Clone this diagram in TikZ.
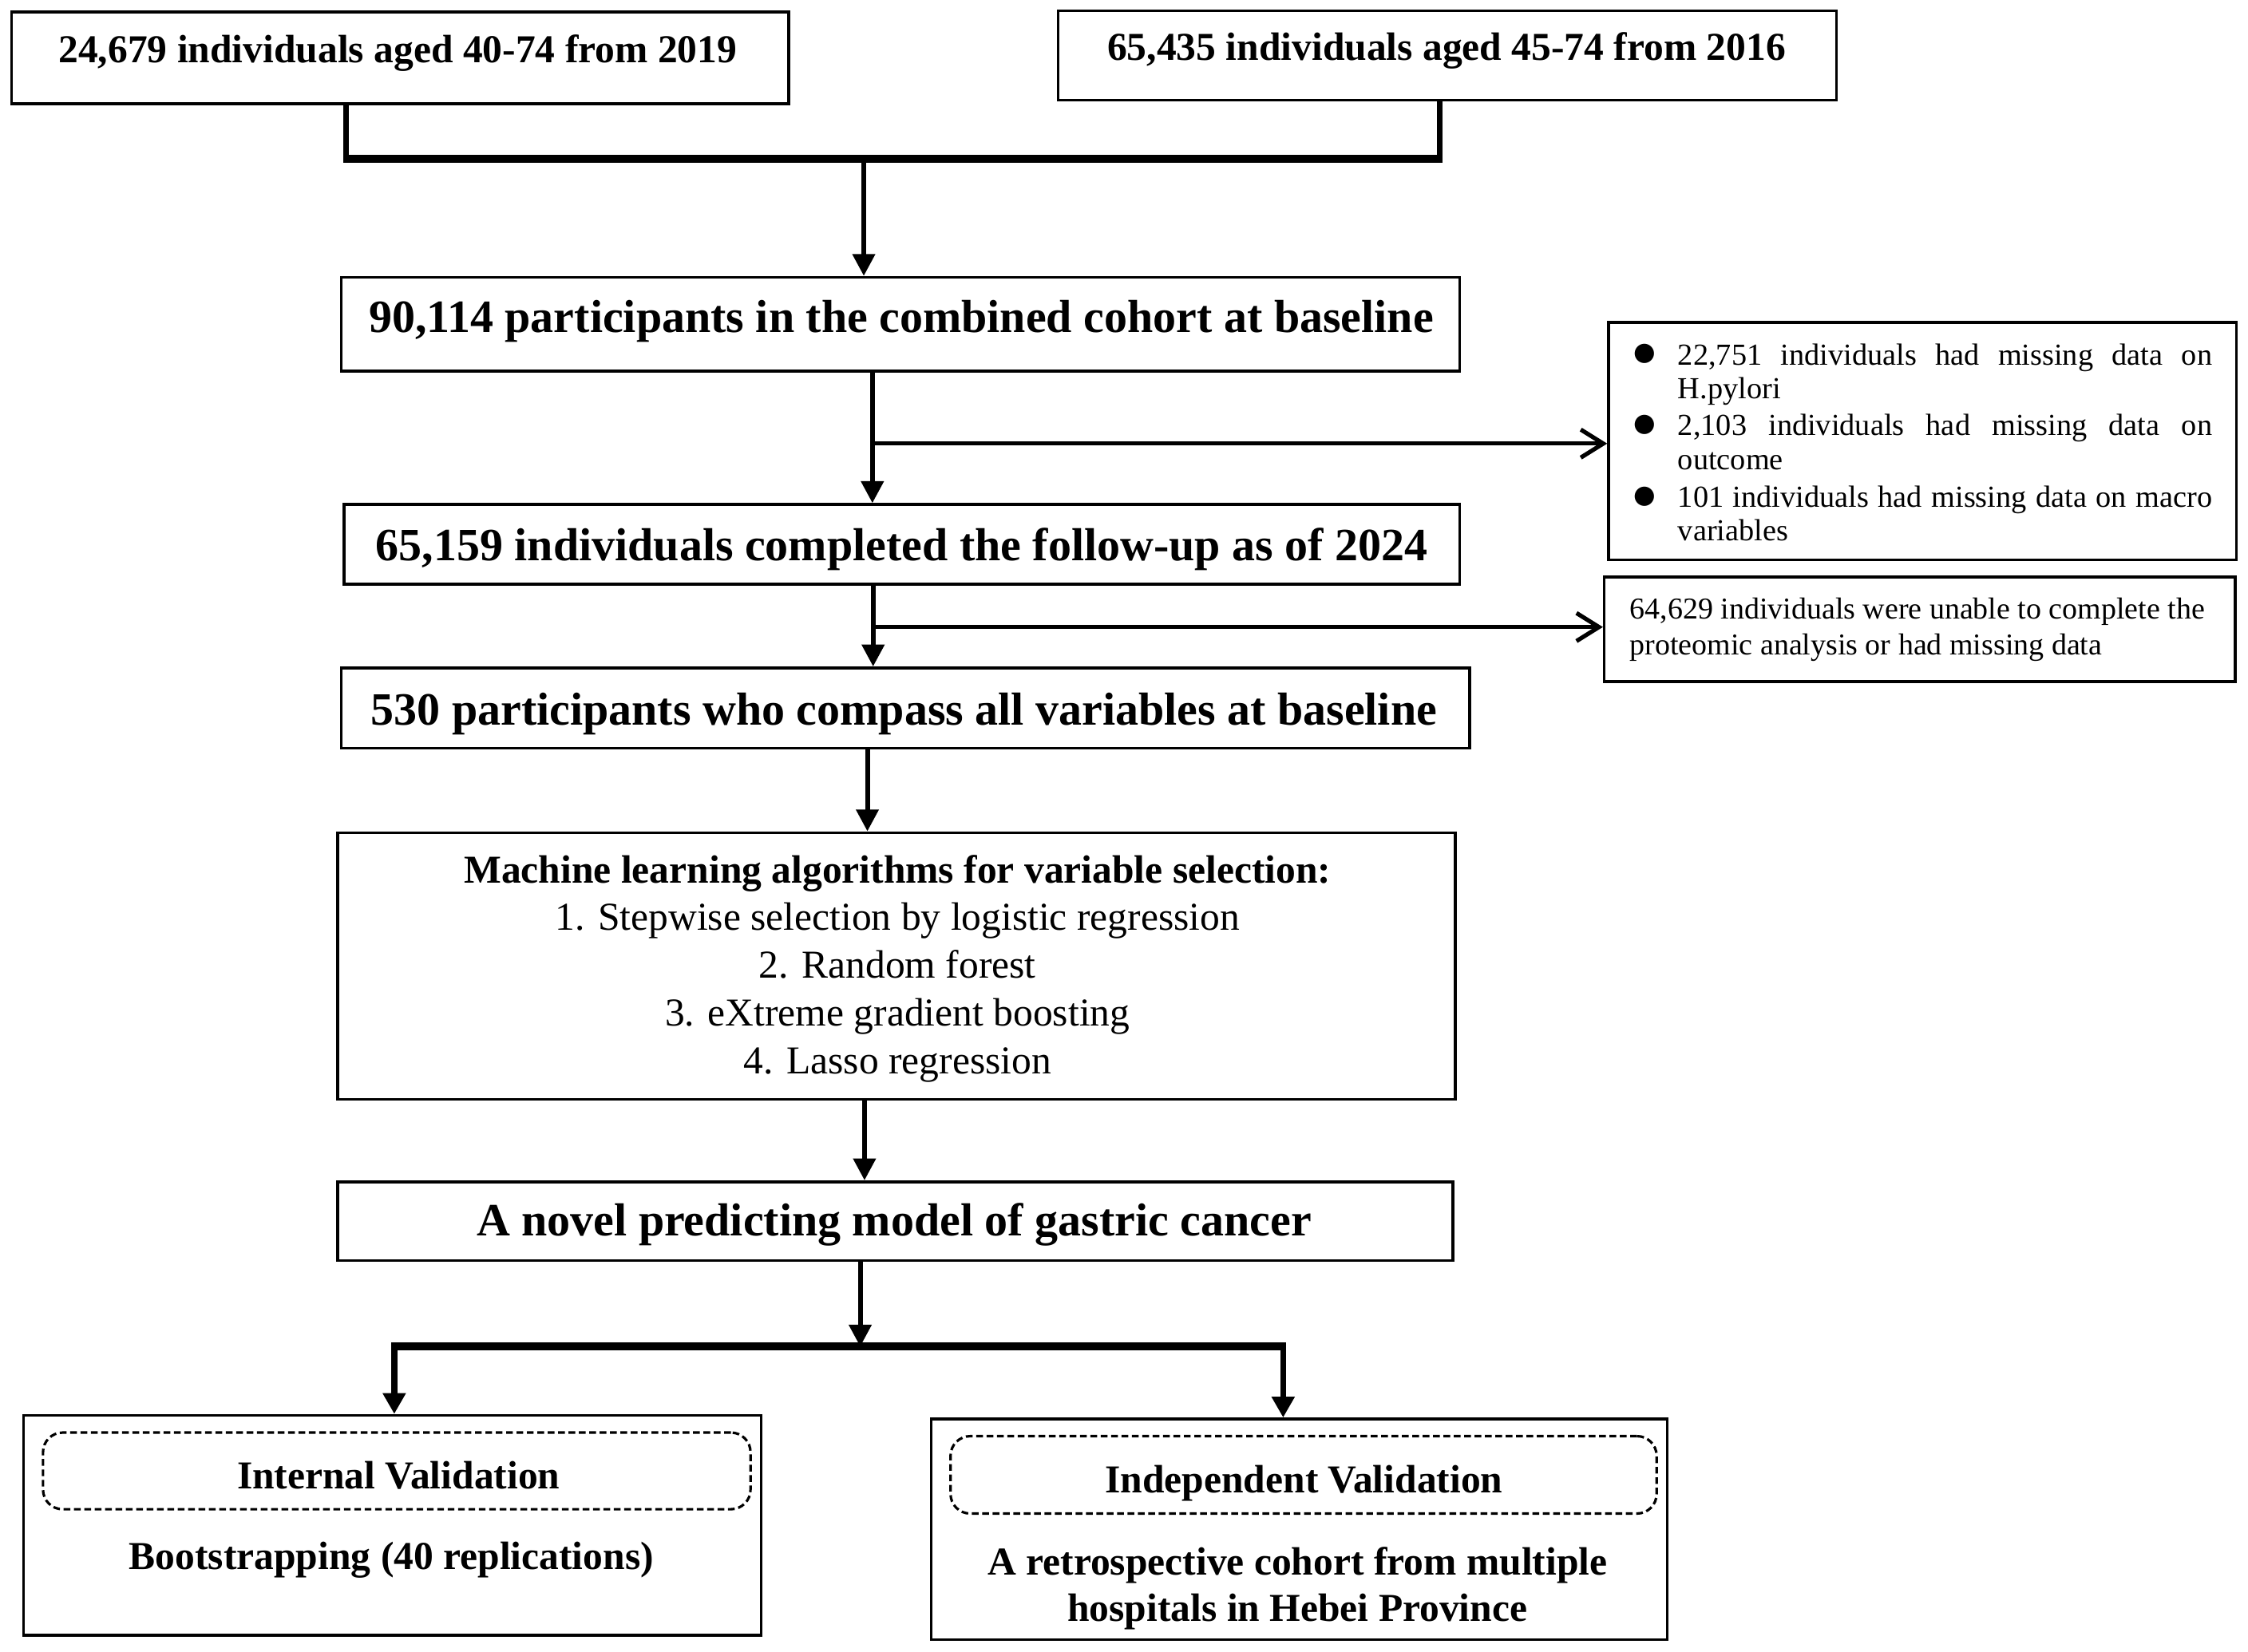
\documentclass[tikz,border=0pt]{standalone}
\usepackage{fontspec}
\setmainfont{Liberation Serif}
\newfontfamily\symfont{DejaVu Sans}
\usetikzlibrary{arrows.meta,fit,calc}
\begin{document}
\begin{tikzpicture}[x=0.017959cm,y=-0.017959cm,
  box/.style={draw, line width=1pt, inner sep=0pt, rectangle},
  dbox/.style={draw, line width=0.9pt, inner sep=0pt, rounded corners=7pt, dash pattern=on 2.4pt off 1.3pt},
  arr/.style={line width=1.7pt, -{Triangle[width=7.8pt,length=7.8pt]}},
  arrb/.style={line width=2.2pt, -{Triangle[width=7.8pt,length=7.4pt]}},
  exarr/.style={line width=1.5pt, -{Straight Barb[width=10pt,length=8pt]}},
  bar/.style={line width=2.8pt},
  stub/.style={line width=2pt},
  tbig/.style={font=\fontsize{16.5pt}{19.8pt}\selectfont\bfseries, inner sep=0pt, anchor=base},
  tmidb/.style={font=\fontsize{14.1pt}{16.4pt}\selectfont\bfseries, inner sep=0pt, anchor=base},
  tmid/.style={font=\fontsize{14.1pt}{17pt}\selectfont, inner sep=0pt, anchor=base},
  tsmall/.style={font=\fontsize{10.9pt}{12pt}\selectfont, inner sep=0pt, anchor=base west, align=left},
  bul/.style={font=\symfont\fontsize{9pt}{9pt}\selectfont, inner sep=0pt, anchor=center}
]
\useasboundingbox (0,0) rectangle (1568,1152.6);

% ---------- boxes ----------
\node[box, fit={(8,8.4)(550,72.4)}] (A) {};
\node[box, fit={(738,7.4)(1281,70)}] (B) {};
\node[box, fit={(238,193.5)(1018,259)}] (C) {};
\node[box, fit={(1122,225)(1560,390.5)}] (E) {};
\node[box, fit={(240,352)(1018,407.5)}] (D) {};
\node[box, fit={(1119,402.5)(1559,475.5)}] (G) {};
\node[box, fit={(238,466)(1025,522)}] (F) {};
\node[box, fit={(235.5,581)(1015,767)}] (H) {};
\node[box, fit={(235.5,824.5)(1013.5,879.5)}] (I) {};
\node[box, fit={(16.5,987.5)(531,1141)}] (J) {};
\node[dbox, fit={(30,999.5)(523.5,1053)}] (Jd) {};
\node[box, fit={(649.5,990)(1163,1144)}] (K) {};
\node[dbox, fit={(663,1002)(1155.5,1056)}] (Kd) {};

% ---------- texts (multi-line nodes are anchored at their last baseline) ----------
\node[tmidb] (tA) at (277.5,43.6) {24,679 individuals aged 40-74 from 2019};
\node[tmidb] (tB) at (1009,41.8) {65,435 individuals aged 45-74 from 2016};
\node[tbig] (tC) at (628.6,232) {90,114 participants in the combined cohort at baseline};
\node[tbig] (tD) at (629,391) {65,159 individuals completed the follow-up as of 2024};
\node[tbig] (tF) at (630.5,506) {530 participants who compass all variables at baseline};
\node[tmid, align=center] (tH) at (626,749) {\textbf{Machine learning algorithms for variable selection:}\\
  1. Stepwise selection by logistic regression\\
  2. Random forest\\
  3. eXtreme gradient boosting\\
  4. Lasso regression};
\node[tbig] (tI) at (623.6,862.5) {A novel predicting model of gastric cancer};
\node[tmidb] (tJ1) at (278,1038.5) {Internal Validation};
\node[tmidb] (tJ2) at (273,1095) {Bootstrapping (40 replications)};
\node[tmidb] (tK1) at (909.5,1041.5) {Independent Validation};
\node[tmidb, align=center] (tK2) at (905,1131) {A retrospective cohort from multiple\\hospitals in Hebei Province};

\node[bul] (b1) at (1147,247) {●};
\node[bul] (b2) at (1147,296.6) {●};
\node[bul] (b3) at (1147,346.6) {●};
\node[tsmall] (e1) at (1170,278) {\hbox to 190.4pt{22,751 individuals had missing data on}\\H.pylori};
\node[tsmall] (e2) at (1170,327.5) {\hbox to 190.4pt{2,103 individuals had missing data on}\\outcome};
\node[tsmall] (e3) at (1170,377.5) {\hbox to 190.4pt{101 individuals had missing data on macro}\\variables};
\node[tsmall, font=\fontsize{10.8pt}{12.8pt}\selectfont] (g1) at (1136.5,457) {64,629 individuals were unable to complete the\\proteomic analysis or had missing data};

% ---------- connectors ----------
\coordinate (aA) at (241.5,111);
\coordinate (aB) at (1004,111);
\coordinate (j1) at (602.5,111);
\draw[stub] (A.south -| aA) -- (aA);
\draw[stub] (B.south -| aB) -- (aB);
\draw[bar] ($(aA)+(-1.9,0)$) -- ($(aB)+(1.9,0)$);
\draw[arr] (j1) -- (j1 |- C.north);

\coordinate (x1) at (608.5,309.5);
\draw[arr] (C.south -| x1) -- (D.north -| x1);
\draw[exarr] (x1) -- (x1 -| E.west);

\coordinate (x2) at (609,437.5);
\draw[arr] (D.south -| x2) -- (F.north -| x2);
\draw[exarr] (x2) -- (x2 -| G.west);

\coordinate (x3) at (605,550);
\draw[arr] (F.south -| x3) -- (H.north -| x3);
\coordinate (x4) at (603,800);
\draw[arr] (H.south -| x4) -- (I.north -| x4);

\coordinate (j2) at (600,939.5);
\coordinate (bl) at (275,939.5);
\coordinate (br) at (895,939.5);
\draw[arr] (I.south -| j2) -- (j2);
\draw[bar] ($(bl)+(-2.1,0)$) -- ($(br)+(2.1,0)$);
\draw[arrb] (bl) -- (bl |- J.north);
\draw[arrb] (br) -- (br |- K.north);
\end{tikzpicture}
\end{document}
